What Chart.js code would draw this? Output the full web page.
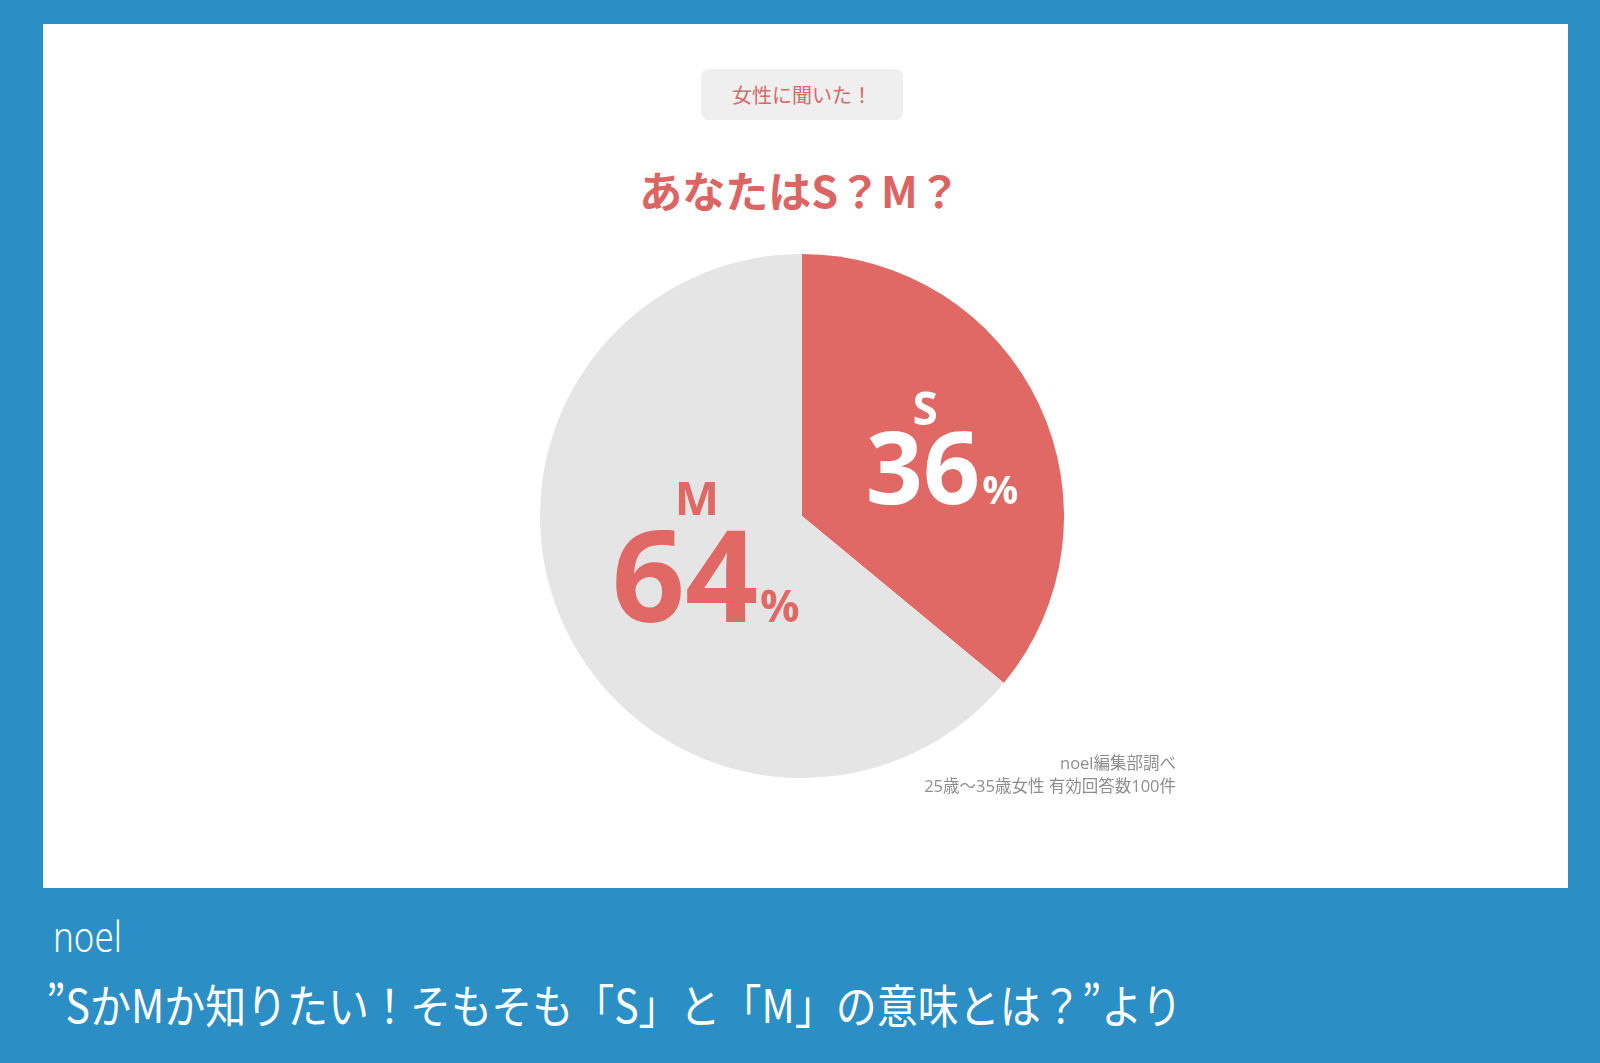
<!DOCTYPE html>
<html lang="ja">
<head>
<meta charset="utf-8">
<script src="https://cdn.jsdelivr.net/npm/chart.js@4.4.1/dist/chart.umd.min.js"></script>
<style>
  html, body { margin: 0; padding: 0; }
  body { width: 1600px; height: 1063px; background: #2b8fc6; position: relative; overflow: hidden;
         font-family: "Noto Sans CJK JP", "Noto Sans", sans-serif; }
  #panel { position: absolute; left: 43px; top: 24px; width: 1525px; height: 864px; background: #ffffff; }
  #badge { position: absolute; left: 701px; top: 69px; width: 202px; height: 51px; background: #efefef;
           border-radius: 8px; color: #d6696b; font-size: 20px; line-height: 51px; text-align: center; }
  #title { position: absolute; left: 0; width: 1600px; top: 165px; text-align: center; color: #dc6462;
           font-size: 43px; line-height: 48px; font-weight: 700; }
  #wrap { position: absolute; left: 540px; top: 254px; width: 524px; height: 524px; }
  #note { position: absolute; right: 424px; top: 751px; text-align: right; color: #8e8e8e;
          font-family: "Open Sans", "Noto Sans CJK JP", sans-serif; font-size: 16.5px; line-height: 23px; }
  .cap { position: absolute; color: #ffffff; white-space: nowrap; transform-origin: 0 0; line-height: 1; }
  #cap1 { left: 53px; top: 915px; font-family: "Noto Sans", sans-serif; font-size: 42px; font-weight: 300; }
  #cap2 { left: 46px; top: 980px; font-size: 46px; font-weight: 400; }
</style>
</head>
<body>
<div id="panel"></div>
<div id="badge">女性に聞いた！</div>
<div id="title">あなたはS？M？</div>
<div id="wrap"><canvas id="canvas" width="524" height="524"></canvas></div>
<div id="note">noel編集部調べ<br>25歳〜35歳女性 有効回答数100件</div>
<div class="cap" id="cap1">noel</div>
<div class="cap" id="cap2">”SかMか知りたい！そもそも「S」と「M」の意味とは？”より</div>
<script>
var categories = ['S', 'M'];
var shares = [36, 64];
var sliceColors = ['#e06865', '#e5e5e5'];
var labelColors = ['#ffffff', '#e06865'];

// label placement, in units of the pie radius, and font sizes per slice
var labelStyle = [
    { dx: 0.462, dy: -0.046, num: 100, pct: 40, letter: 46, rise: 79, letterDx: 2 },
    { dx: -0.447, dy: 0.405, num: 128, pct: 44, letter: 47, rise: 107, letterDx: 12 }
];

var sliceLabels = {
    id: 'sliceLabels',
    afterDatasetsDraw: function(chart) {
        var ctx = chart.ctx;
        var meta = chart.getDatasetMeta(0);
        meta.data.forEach(function(arc, i) {
            var st = labelStyle[i];
            var r = arc.outerRadius;
            var ax = arc.x + st.dx * r;
            var ay = arc.y + st.dy * r;
            ctx.save();
            ctx.fillStyle = labelColors[i];
            ctx.textBaseline = 'alphabetic';
            ctx.font = '700 ' + st.num + 'px "Open Sans", sans-serif';
            var txt = String(shares[i]);
            var w = ctx.measureText(txt).width;
            ctx.textAlign = 'center';
            ctx.fillText(txt, ax, ay);
            ctx.font = '700 ' + st.pct + 'px "Open Sans", sans-serif';
            ctx.textAlign = 'left';
            ctx.fillText('%', ax + w / 2 + 2, ay);
            ctx.font = '700 ' + st.letter + 'px "Open Sans", sans-serif';
            ctx.textAlign = 'center';
            ctx.fillText(categories[i], ax + st.letterDx, ay - st.rise);
            ctx.restore();
        });
    }
};

var config = {
    type: 'pie',
    data: {
        labels: categories,
        datasets: [{
            data: shares,
            backgroundColor: sliceColors,
            borderWidth: 0
        }]
    },
    options: {
        responsive: false,
        animation: false,
        plugins: {
            legend: { display: false },
            tooltip: { enabled: false }
        }
    },
    plugins: [sliceLabels]
};

window.onload = function() {
    var ctx = document.getElementById('canvas').getContext('2d');
    window.myPie = new Chart(ctx, config);

    // squeeze the caption lines to the narrow face used in the picture
    var c1 = document.getElementById('cap1');
    c1.style.transform = 'scaleX(' + (69 / c1.offsetWidth) + ')';
    var c2 = document.getElementById('cap2');
    c2.style.transform = 'scaleX(' + (1136 / c2.offsetWidth) + ')';
};
</script>
</body>
</html>
